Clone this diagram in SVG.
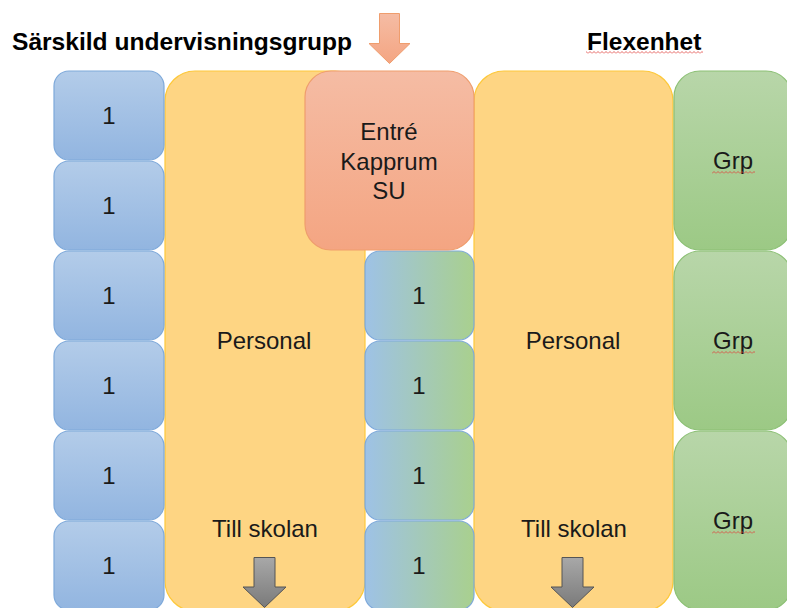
<svg xmlns="http://www.w3.org/2000/svg" width="787" height="608" viewBox="0 0 787 608">
<defs>
<linearGradient id="gBlue" x1="0" y1="0" x2="0" y2="1"><stop offset="0" stop-color="#b3cce9"/><stop offset="1" stop-color="#92b5e0"/></linearGradient>
<linearGradient id="gMix" x1="0" y1="0" x2="1" y2="0"><stop offset="0" stop-color="#9ec2e6"/><stop offset="1" stop-color="#a9d08e"/></linearGradient>
<linearGradient id="gOrange" x1="0" y1="0" x2="0" y2="1"><stop offset="0" stop-color="#f5bca4"/><stop offset="1" stop-color="#f4a582"/></linearGradient>
<linearGradient id="gGreen" x1="0" y1="0" x2="0" y2="1"><stop offset="0" stop-color="#b8d6a9"/><stop offset="1" stop-color="#9cc985"/></linearGradient>
<linearGradient id="gGray" x1="0" y1="0" x2="0" y2="1"><stop offset="0" stop-color="#a8a8a8"/><stop offset="1" stop-color="#7a7a7a"/></linearGradient>
<pattern id="wave" width="4" height="3" patternUnits="userSpaceOnUse"><polyline points="0,2.5 2,0.5 4,2.5" fill="none" stroke="#e0403c" stroke-width="0.8"/></pattern>
<style>
.blue{fill:url(#gBlue);stroke:#7ea9da;stroke-width:1.2}
.mix{fill:url(#gMix);stroke:#7ea9da;stroke-width:1.2}
.yel{fill:#fed583;stroke:#fdc83a;stroke-width:1.2}
.grn{fill:url(#gGreen);stroke:#8cc075;stroke-width:1.2}
.org{fill:url(#gOrange);stroke:#ef9d6d;stroke-width:1.2}
.t{font-family:"Liberation Sans",Arial,sans-serif;font-size:24px;fill:#1a1a1a;text-anchor:middle}
.h{font-family:"Liberation Sans",Arial,sans-serif;font-size:24.5px;font-weight:bold;fill:#000}
.gray{fill:url(#gGray);stroke:#555;stroke-width:1}
</style>
</defs>
<rect width="787" height="608" fill="#fff"/>

<g id="headers">
<text class="h" x="12" y="50" textLength="340" lengthAdjust="spacingAndGlyphs">Särskild undervisningsgrupp</text>
<text class="h" x="587" y="50">Flexenhet</text>
<rect x="586" y="51" width="117" height="3" fill="url(#wave)"/>
</g>

<g id="personal-su">
<rect class="yel" x="165" y="71" width="200" height="540" rx="30"/>
<text class="t" x="264" y="349">Personal</text>
<text class="t" x="265" y="537">Till skolan</text>
</g>

<g id="personal-flex">
<rect class="yel" x="474" y="71" width="199" height="540" rx="30"/>
<text class="t" x="573" y="349">Personal</text>
<text class="t" x="574" y="537">Till skolan</text>
</g>

<g id="su-groups">
<g id="su1"><rect class="blue" x="54" y="71" width="110" height="89" rx="15"/><text class="t" x="109" y="124">1</text></g>
<g id="su2"><rect class="blue" x="54" y="161" width="110" height="89" rx="15"/><text class="t" x="109" y="214">1</text></g>
<g id="su3"><rect class="blue" x="54" y="251" width="110" height="89" rx="15"/><text class="t" x="109" y="304">1</text></g>
<g id="su4"><rect class="blue" x="54" y="341" width="110" height="89" rx="15"/><text class="t" x="109" y="394">1</text></g>
<g id="su5"><rect class="blue" x="54" y="431" width="110" height="89" rx="15"/><text class="t" x="109" y="484">1</text></g>
<g id="su6"><rect class="blue" x="54" y="521" width="110" height="89" rx="15"/><text class="t" x="109" y="574">1</text></g>
</g>

<g id="mid-groups">
<g id="mid1"><rect class="mix" x="365" y="251" width="109" height="89" rx="15"/><text class="t" x="419" y="304">1</text></g>
<g id="mid2"><rect class="mix" x="365" y="341" width="109" height="89" rx="15"/><text class="t" x="419" y="394">1</text></g>
<g id="mid3"><rect class="mix" x="365" y="431" width="109" height="89" rx="15"/><text class="t" x="419" y="484">1</text></g>
<g id="mid4"><rect class="mix" x="365" y="521" width="109" height="89" rx="15"/><text class="t" x="419" y="574">1</text></g>
</g>

<g id="entre">
<rect class="org" x="305" y="71" width="169" height="179" rx="26"/>
<text class="t" x="389" y="140">Entré</text>
<text class="t" x="389" y="170">Kapprum</text>
<text class="t" x="389" y="199">SU</text>
</g>

<g id="flex-groups">
<g id="grp1"><rect class="grn" x="674" y="71" width="118" height="179" rx="26"/><text class="t" x="733" y="169">Grp</text><rect x="712" y="171" width="43" height="3" fill="url(#wave)"/></g>
<g id="grp2"><rect class="grn" x="674" y="251" width="118" height="179" rx="26"/><text class="t" x="733" y="349">Grp</text><rect x="712" y="351" width="43" height="3" fill="url(#wave)"/></g>
<g id="grp3"><rect class="grn" x="674" y="431" width="118" height="179" rx="26"/><text class="t" x="733" y="529">Grp</text><rect x="712" y="531" width="43" height="3" fill="url(#wave)"/></g>
</g>

<g id="connectors">
<polygon points="379.5,13.5 399.5,13.5 399.5,43.5 410,43.5 389.5,63.5 369,43.5 379.5,43.5" fill="url(#gOrange)" stroke="#ef9d6d" stroke-width="1"/>
<polygon class="gray" points="254,557.5 275,557.5 275,587 286,587 264.5,607.5 243,587 254,587"/>
<polygon class="gray" points="562,557.5 583,557.5 583,587 594,587 572.5,607.5 551,587 562,587"/>
</g>
</svg>
